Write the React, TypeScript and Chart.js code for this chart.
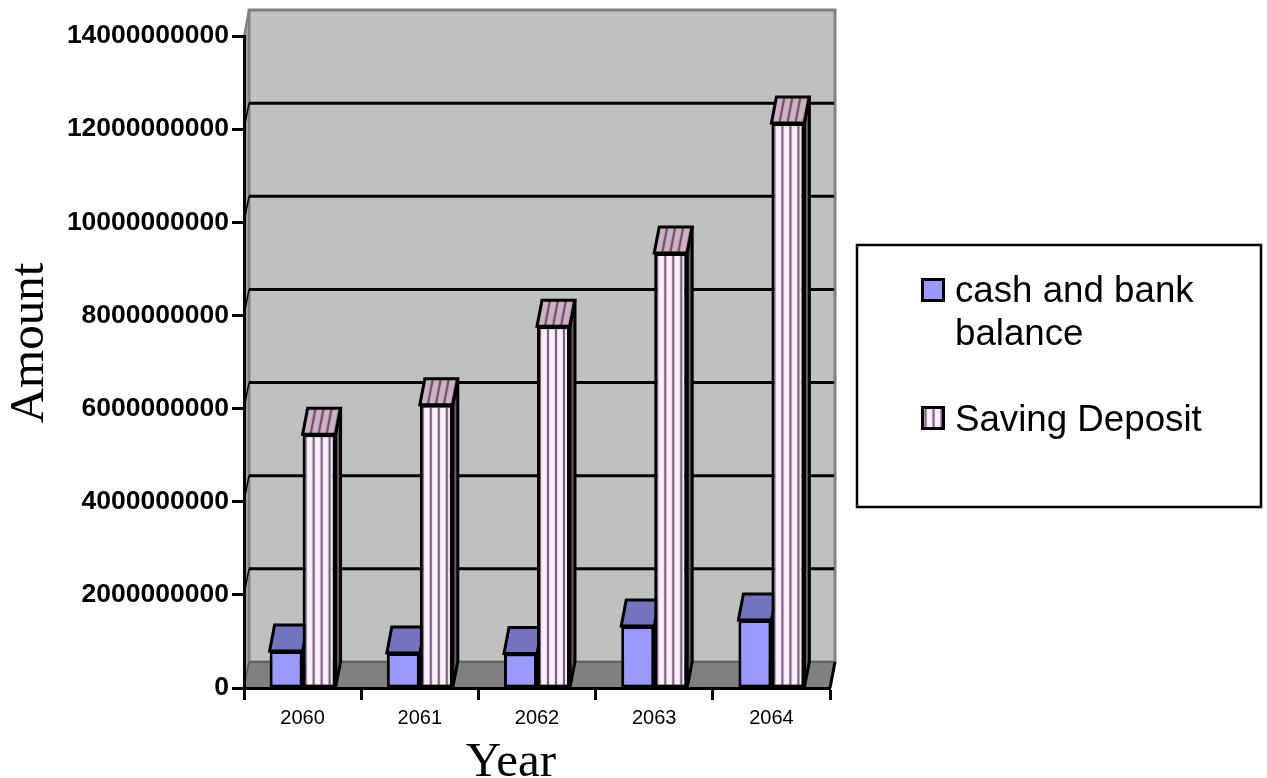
import React, { useEffect, useRef } from "react";
import { Chart, registerables } from "chart.js";

Chart.register(...registerables);

const years = ["2060", "2061", "2062", "2063", "2064"];
const cashAndBank = [795000000, 750000000, 740000000, 1330000000, 1460000000];
const savingDeposit = [5450000000, 6080000000, 7770000000, 9340000000, 12130000000];
const seriesNames = ["cash and bank balance", "Saving Deposit"];
const legendLines = [["cash and bank", "balance"], ["Saving Deposit"]];
const xTitle = "Year";
const yTitle = "Amount";
const yMax = 14000000000;
const yStep = 2000000000;

const DEPTH_X = 5;
const DEPTH_Y = 26;
const LINE = 3;
const SANS = '"Liberation Sans", Arial, sans-serif';
const SERIF = '"Liberation Serif", "Times New Roman", serif';

// Vertical stripe tile shared by the deposit bars, their caps and the legend key.
function stripeTile(bg: string, stripe: string, edge: string) {
  const tile = document.createElement("canvas");
  tile.width = 8;
  tile.height = 8;
  const g = tile.getContext("2d")!;
  g.fillStyle = bg;
  g.fillRect(0, 0, 8, 8);
  g.fillStyle = edge;
  g.fillRect(1, 0, 4, 8);
  g.fillStyle = stripe;
  g.fillRect(2, 0, 2, 8);
  return tile;
}

function stripes(g: CanvasRenderingContext2D, bg: string, stripe: string, edge: string, m: DOMMatrix) {
  const p = g.createPattern(stripeTile(bg, stripe, edge), "repeat")!;
  p.setTransform(m);
  return p;
}

function poly(g: CanvasRenderingContext2D, pts: number[][], fill: any, stroke: string | null, lw = LINE) {
  g.beginPath();
  pts.forEach(([x, y], i) => (i ? g.lineTo(x, y) : g.moveTo(x, y)));
  g.closePath();
  g.fillStyle = fill;
  g.fill();
  if (stroke) {
    g.strokeStyle = stroke;
    g.lineWidth = lw;
    g.lineJoin = "miter";
    g.stroke();
  }
}

// Back wall, side wall, floor and the receding gridlines.
const roomPlugin = {
  id: "room",
  beforeDraw(chart: any) {
    const g: CanvasRenderingContext2D = chart.ctx;
    const { x, y } = chart.scales;
    const l = x.left, r = x.right, b = y.getPixelForValue(0), t = y.getPixelForValue(yMax);
    g.save();
    poly(g, [[l + DEPTH_X, t - DEPTH_Y], [r + DEPTH_X, t - DEPTH_Y], [r + DEPTH_X, b - DEPTH_Y], [l + DEPTH_X, b - DEPTH_Y]], "#C0C0C0", "#808080", 3);
    poly(g, [[l, t], [l + DEPTH_X, t - DEPTH_Y], [l + DEPTH_X, b - DEPTH_Y], [l, b]], "#A0A0A0", "#808080", 2);
    poly(g, [[l, b], [l + DEPTH_X, b - DEPTH_Y], [r + DEPTH_X, b - DEPTH_Y], [r, b]], "#808080", "#5A5A5A", 1.5);
    g.strokeStyle = "#000";
    for (let v = yStep; v < yMax; v += yStep) {
      const py = y.getPixelForValue(v);
      g.lineWidth = 1.5;
      g.beginPath();
      g.moveTo(l, py);
      g.lineTo(l + DEPTH_X, py - DEPTH_Y);
      g.stroke();
      g.lineWidth = LINE;
      g.beginPath();
      g.moveTo(l + DEPTH_X, py - DEPTH_Y);
      g.lineTo(r + DEPTH_X - 1, py - DEPTH_Y);
      g.stroke();
    }
    g.lineWidth = LINE;
    g.beginPath();
    g.moveTo(r, b);
    g.lineTo(r + DEPTH_X, b - DEPTH_Y);
    g.stroke();
    g.restore();
  },
};

// Top and right faces of each bar; the front faces are the chart's own bars.
const barDepthPlugin = {
  id: "barDepth",
  beforeDatasetsDraw(chart: any) {
    const g: CanvasRenderingContext2D = chart.ctx;
    const faces = [
      { top: () => "#7373BF", side: () => "#4D4D80" },
      {
        top: (e: any) =>
          stripes(g, "#C8B4C2", "#7A4A6A", "#BCA2B4", new DOMMatrix([1, 0, -DEPTH_X / DEPTH_Y, 1, e.x - e.width / 2 + DEPTH_X, e.y])),
        side: () => "#6A5A6A",
      },
    ];
    g.save();
    chart.data.datasets.forEach((_: any, i: number) => {
      chart.getDatasetMeta(i).data.forEach((e: any) => {
        const x0 = e.x - e.width / 2, x1 = e.x + e.width / 2;
        poly(g, [[x1, e.y], [x1 + DEPTH_X, e.y - DEPTH_Y], [x1 + DEPTH_X, e.base - DEPTH_Y], [x1, e.base]], faces[i].side(), "#000");
        poly(g, [[x0, e.y], [x0 + DEPTH_X, e.y - DEPTH_Y], [x1 + DEPTH_X, e.y - DEPTH_Y], [x1, e.y]], faces[i].top(e), "#000");
      });
    });
    g.restore();
  },
};

// Axis titles and the boxed legend with its wrapped first entry.
const annotationPlugin = {
  id: "annotations",
  afterDraw(chart: any) {
    const g: CanvasRenderingContext2D = chart.ctx;
    g.save();
    g.fillStyle = "#000";
    g.font = `49px ${SERIF}`;
    g.textAlign = "center";
    g.textBaseline = "alphabetic";
    g.fillText(xTitle, 511, 776);
    g.save();
    g.translate(43, 343);
    g.rotate(-Math.PI / 2);
    g.fillText(yTitle, 0, 0);
    g.restore();

    g.strokeStyle = "#000";
    g.lineWidth = 2.5;
    g.strokeRect(857, 245, 404, 262);

    g.font = `36.7px ${SANS}`;
    g.textAlign = "left";
    g.lineWidth = LINE;
    const keyTops = [279.5, 407.5];
    const baselines = [[302, 345], [431]];
    legendLines.forEach((lines, i) => {
      g.fillStyle = i === 0 ? "#9999FF" : stripes(g, "#FFF0FF", "#80607F", "#EBDAEB", new DOMMatrix([1, 0, 0, 1, 922.5, 0]));
      g.fillRect(922.5, keyTops[i], 21, 21);
      g.strokeRect(922.5, keyTops[i], 21, 21);
      g.fillStyle = "#000";
      lines.forEach((line, j) => g.fillText(line, 955, baselines[i][j]));
    });
    g.restore();
  },
};

export default function App() {
  const ref = useRef<HTMLCanvasElement>(null);
  useEffect(() => {
    const canvas = ref.current!;
    const chart = new Chart(canvas, {
      type: "bar",
      data: {
        labels: years,
        datasets: [
          {
            label: seriesNames[0],
            data: cashAndBank,
            backgroundColor: "#9999FF",
            borderColor: "#000",
            borderWidth: LINE,
            borderSkipped: false,
          },
          {
            label: seriesNames[1],
            data: savingDeposit,
            backgroundColor: (c: any) => {
              const left = c.chart.scales.x ? c.chart.scales.x.getPixelForValue(c.dataIndex) : 0;
              return stripes(canvas.getContext("2d")!, "#FFF0FF", "#80607F", "#EBDAEB", new DOMMatrix([1, 0, 0, 1, left, 0]));
            },
            borderColor: "#000",
            borderWidth: LINE,
            borderSkipped: false,
          },
        ],
      },
      options: {
        responsive: false,
        animation: false,
        events: [],
        layout: { padding: { left: 0, right: 437, top: 36, bottom: 0 } },
        plugins: { legend: { display: false }, title: { display: false }, tooltip: { enabled: false } },
        datasets: { bar: { categoryPercentage: 0.563, barPercentage: 1 } },
        scales: {
          x: {
            afterFit: (s: any) => { s.height = 90; },
            offset: true,
            grid: { drawOnChartArea: false, drawTicks: true, tickLength: 12, tickWidth: LINE, tickColor: "#000", offset: true },
            border: { color: "#000", width: LINE },
            ticks: { color: "#000", font: { family: SANS, size: 20 }, padding: 6, maxRotation: 0, autoSkip: false },
          },
          y: {
            min: 0,
            max: yMax,
            afterFit: (s: any) => { s.width = 244; },
            grid: { drawOnChartArea: false, drawTicks: true, tickLength: 12, tickWidth: LINE, tickColor: "#000" },
            border: { color: "#000", width: LINE },
            ticks: {
              stepSize: yStep,
              color: "#000",
              font: { family: SANS, size: 26.5, weight: "bold" },
              padding: 3,
              callback: (v: any) => String(v),
            },
          },
        },
      },
      plugins: [roomPlugin, barDepthPlugin, annotationPlugin],
    } as any);
    return () => chart.destroy();
  }, []);
  return (
    <canvas
      ref={ref}
      width={1267}
      height={778}
      style={{ position: "fixed", left: 0, top: 0, width: 1267, height: 778, display: "block" }}
    />
  );
}
